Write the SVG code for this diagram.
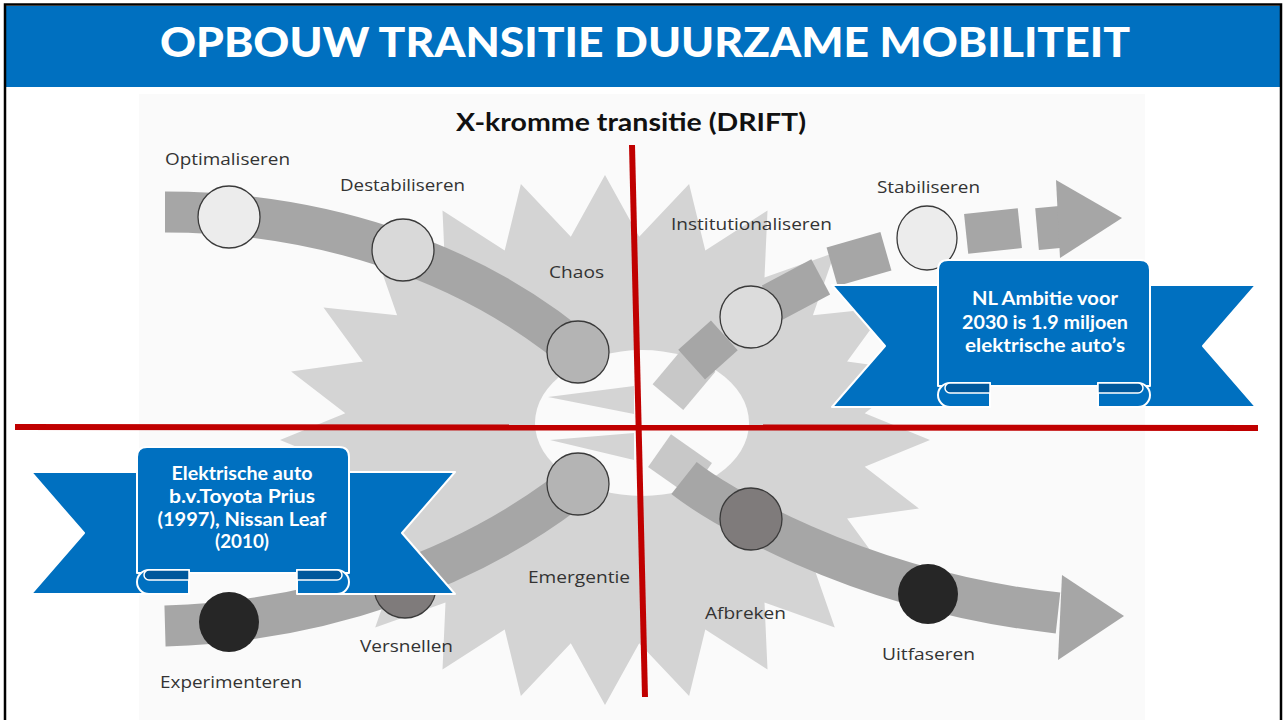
<svg xmlns="http://www.w3.org/2000/svg" width="1284" height="720" viewBox="0 0 1284 720">
<defs>
<style>
.lbl{font-family:"Open Sans","Noto Sans","Liberation Sans",sans-serif;font-size:17px;fill:#333333;}
.rtxt{font-family:Lato,"Liberation Sans",sans-serif;font-weight:bold;font-size:18px;fill:#ffffff;text-anchor:middle;}
.band{fill:none;stroke:#a6a6a6;stroke-width:41;stroke-linecap:butt;}
.dash{fill:#a6a6a6;}
.node{stroke:#3a3a3a;stroke-width:1.3;}
.red{stroke:#c00000;stroke-width:6;fill:none;}
.rb{fill:#0070c0;stroke:#ffffff;stroke-width:2;stroke-linejoin:round;}
.rbd{fill:#00589c;stroke:#ffffff;stroke-width:1.5;}
</style>
<g id="ribbon">
<polygon class="rb" points="-106,25 12,25 12,147 -106,147 -53,86"/>
<polygon class="rb" points="318,25 200,25 200,147 318,147 265,86"/>
<path class="rb" d="M0,10 Q0,0 10,0 H202 Q212,0 212,10 V126 H0 Z"/>
<path class="rb" d="M52,123 H12 A12,12 0 0 0 12,147 H52 Z"/>
<path class="rbd" d="M52,123 H12 A5,5 0 0 0 12,133 H52 Z"/>
<path class="rb" d="M160,123 H200 A12,12 0 0 1 200,147 H160 Z"/>
<path class="rbd" d="M160,123 H200 A5,5 0 0 1 200,133 H160 Z"/>
</g>
</defs>

<rect x="0" y="0" width="1284" height="720" fill="#ffffff"/>
<rect x="139" y="94" width="1006" height="626" fill="#fafafa"/>

<g id="starburst">
<polygon fill="#d4d4d4" points="930,440 864.7,466.8 918.9,508.6 847.1,518.5 886.5,572.5 812.9,564.8 834.8,627.4 764.5,602.6 767.5,669.5 705.3,629.4 689.1,696 639.2,643.2 605,705 570.8,643.2 520.9,696 504.7,629.4 442.5,669.5 445.5,602.6 375.2,627.4 397.1,564.8 323.5,572.5 362.9,518.5 291.1,508.6 345.3,466.8 280,440 345.3,413.2 291.1,371.4 362.9,361.5 323.5,307.5 397.1,315.2 375.2,252.6 445.5,277.4 442.5,210.5 504.7,250.6 520.9,184 570.8,236.8 605,175 639.2,236.8 689.1,184 705.3,250.6 767.5,210.5 764.5,277.4 834.8,252.6 812.9,315.2 886.5,307.5 847.1,361.5 918.9,371.4 864.7,413.2"/>
<ellipse cx="642" cy="423" rx="107" ry="73" fill="#fafafa"/>
<polygon fill="#d4d4d4" points="548,397 634,386 634,414"/>
<polygon fill="#d4d4d4" points="550,440 634,433 634,460"/>
</g>

<g id="connectors">
<path class="band" d="M165,212 C310,212 470,255 592,364"/>
<path class="band" d="M165,626 C310,622 470,575 592,472"/>
<rect x="-25" y="-20" width="50" height="40" fill="#c8c8c8" transform="translate(680,465) rotate(35)"/>
<path class="band" d="M684,478 C712,500 850,590 1058,613"/>
<polygon class="dash" points="1062,575 1124,616 1058,660"/>
<rect x="-25" y="-20" width="50" height="40" fill="#c8c8c8" transform="translate(684,378) rotate(-50)"/>
<rect class="dash" x="-22" y="-20" width="44" height="40" transform="translate(708,350) rotate(-42)"/>
<rect class="dash" x="-28" y="-20" width="56" height="40" transform="translate(796,290) rotate(-28)"/>
<rect class="dash" x="-28" y="-20" width="56" height="40" transform="translate(859,259) rotate(-16)"/>
<rect class="dash" x="-27" y="-20" width="54" height="40" transform="translate(993,231) rotate(-6)"/>
<rect class="dash" x="-12" y="-21" width="24" height="42" transform="translate(1049,228) rotate(-5)"/>
<polygon class="dash" points="1056,180 1122,218 1060,258"/>
</g>

<g id="node-optimaliseren">
<circle class="node" cx="229" cy="217" r="31" fill="#ececec"/>
<text class="lbl" x="165" y="165" textLength="125" lengthAdjust="spacingAndGlyphs">Optimaliseren</text>
</g>
<g id="node-destabiliseren">
<circle class="node" cx="403" cy="250" r="31" fill="#d9d9d9"/>
<text class="lbl" x="340" y="191" textLength="125" lengthAdjust="spacingAndGlyphs">Destabiliseren</text>
</g>
<g id="node-chaos">
<circle class="node" cx="578" cy="352" r="31" fill="#b4b4b4"/>
<text class="lbl" x="549" y="278" textLength="55" lengthAdjust="spacingAndGlyphs">Chaos</text>
</g>
<g id="node-institutionaliseren">
<circle class="node" cx="751" cy="317" r="31" fill="#dcdcdc"/>
<text class="lbl" x="671" y="230" textLength="161" lengthAdjust="spacingAndGlyphs">Institutionaliseren</text>
</g>
<g id="node-stabiliseren">
<ellipse class="node" cx="927" cy="238" rx="30" ry="32" fill="#ececec"/>
<text class="lbl" x="877" y="193" textLength="103" lengthAdjust="spacingAndGlyphs">Stabiliseren</text>
</g>
<g id="node-emergentie">
<circle class="node" cx="578" cy="484" r="31" fill="#b4b4b4"/>
<text class="lbl" x="528" y="583" textLength="102" lengthAdjust="spacingAndGlyphs">Emergentie</text>
</g>
<g id="node-versnellen">
<circle class="node" cx="405" cy="587" r="31" fill="#7f7b7b"/>
<text class="lbl" x="360" y="652" textLength="93" lengthAdjust="spacingAndGlyphs">Versnellen</text>
</g>
<g id="node-experimenteren">
<circle cx="229" cy="622" r="30" fill="#262626"/>
<text class="lbl" x="160" y="688" textLength="142" lengthAdjust="spacingAndGlyphs">Experimenteren</text>
</g>
<g id="node-afbreken">
<circle class="node" cx="751" cy="519" r="31" fill="#7f7b7b"/>
<text class="lbl" x="705" y="619" textLength="81" lengthAdjust="spacingAndGlyphs">Afbreken</text>
</g>
<g id="node-uitfaseren">
<circle cx="928" cy="594" r="30" fill="#262626"/>
<text class="lbl" x="882" y="660" textLength="93" lengthAdjust="spacingAndGlyphs">Uitfaseren</text>
</g>

<g id="axes">
<line class="red" x1="632" y1="145" x2="645" y2="697"/>
<line class="red" x1="15" y1="427" x2="1258" y2="428"/>
</g>

<g id="ribbon-nl-ambitie">
<use href="#ribbon" transform="translate(938,260)"/>
<text class="rtxt" x="1045" y="305" textLength="146" lengthAdjust="spacingAndGlyphs">NL Ambitie voor</text>
<text class="rtxt" x="1045" y="329" textLength="166" lengthAdjust="spacingAndGlyphs">2030 is 1.9 miljoen</text>
<text class="rtxt" x="1045" y="352" textLength="160" lengthAdjust="spacingAndGlyphs">elektrische auto’s</text>
</g>

<g id="ribbon-elektrische-auto">
<use href="#ribbon" transform="translate(137,447)"/>
<text class="rtxt" x="242" y="480" textLength="141" lengthAdjust="spacingAndGlyphs">Elektrische auto</text>
<text class="rtxt" x="242" y="503" textLength="146" lengthAdjust="spacingAndGlyphs">b.v.Toyota Prius</text>
<text class="rtxt" x="242" y="526" textLength="169" lengthAdjust="spacingAndGlyphs">(1997), Nissan Leaf</text>
<text class="rtxt" x="242" y="548" textLength="54" lengthAdjust="spacingAndGlyphs">(2010)</text>
</g>

<g id="subtitle">
<text x="631" y="131" text-anchor="middle" font-family="Lato,'Liberation Sans',sans-serif" font-weight="bold" font-size="24" fill="#111111" textLength="350" lengthAdjust="spacingAndGlyphs">X-kromme transitie (DRIFT)</text>
</g>

<g id="header">
<rect x="6" y="6" width="1274" height="81" fill="#0070c0"/>
<text x="645" y="57" text-anchor="middle" font-family="Lato,'Liberation Sans',sans-serif" font-weight="900" font-size="41" fill="#ffffff" textLength="970" lengthAdjust="spacingAndGlyphs">OPBOUW TRANSITIE DUURZAME MOBILITEIT</text>
</g>
<path d="M5,725 V4.5 H1281 V725" fill="none" stroke="#000000" stroke-width="2.5"/>
</svg>
